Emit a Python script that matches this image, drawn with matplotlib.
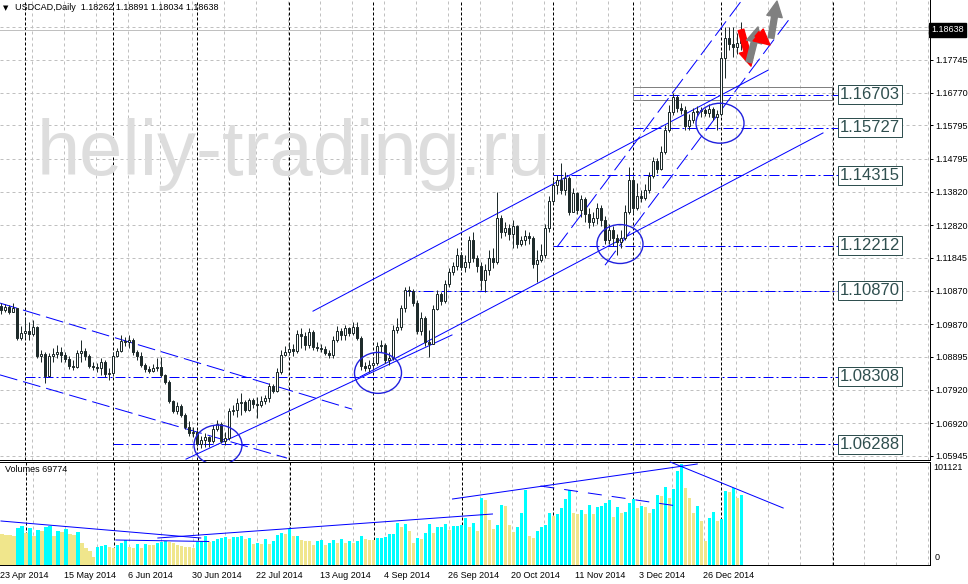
import numpy as np
import matplotlib
matplotlib.use("Agg")
import matplotlib.pyplot as plt
from matplotlib.patches import Ellipse, Rectangle
from matplotlib.transforms import blended_transform_factory

plt.rcParams['lines.scale_dashes'] = False
plt.rcParams['font.family'] = ['Liberation Sans', 'DejaVu Sans']

# USDCAD daily bars, 23 Apr 2014 .. 9 Jan 2015
first_open = 1.1040
closes = [
    1.1029, 1.1038, 1.1023, 1.1035, 1.0946, 1.0961, 1.0967, 1.0958, 1.0979, 1.0892,
    1.0898, 1.0832, 1.0892, 1.0898, 1.0904, 1.0895, 1.0883, 1.0862, 1.0859, 1.0901,
    1.0907, 1.0892, 1.0862, 1.0859, 1.0856, 1.0874, 1.0838, 1.0841, 1.0892, 1.0907,
    1.0937, 1.0934, 1.0940, 1.0904, 1.0892, 1.0865, 1.0853, 1.0847, 1.0856, 1.0859,
    1.0835, 1.0815, 1.0758, 1.0728, 1.0743, 1.0716, 1.0680, 1.0663, 1.0666, 1.0630,
    1.0642, 1.0651, 1.0639, 1.0675, 1.0690, 1.0639, 1.0648, 1.0728, 1.0731, 1.0752,
    1.0755, 1.0731, 1.0761, 1.0749, 1.0746, 1.0758, 1.0767, 1.0803, 1.0788, 1.0844,
    1.0895, 1.0904, 1.0913, 1.0907, 1.0958, 1.0952, 1.0925, 1.0964, 1.0919, 1.0916,
    1.0913, 1.0901, 1.0895, 1.0940, 1.0967, 1.0955, 1.0976, 1.0961, 1.0979, 1.0946,
    1.0862, 1.0856, 1.0865, 1.0871, 1.0922, 1.0925, 1.0880, 1.0886, 1.0970, 1.0979,
    1.1035, 1.1089, 1.1086, 1.1050, 1.0967, 1.1005, 1.0934, 1.0928, 1.1032, 1.1077,
    1.1056, 1.1107, 1.1142, 1.1160, 1.1193, 1.1157, 1.1172, 1.1238, 1.1184, 1.1160,
    1.1119, 1.1148, 1.1184, 1.1172, 1.1303, 1.1262, 1.1274, 1.1256, 1.1279, 1.1226,
    1.1238, 1.1250, 1.1244, 1.1166, 1.1178, 1.1193, 1.1274, 1.1354, 1.1402, 1.1417,
    1.1387, 1.1423, 1.1321, 1.1378, 1.1327, 1.1360, 1.1315, 1.1291, 1.1303, 1.1333,
    1.1297, 1.1238, 1.1268, 1.1244, 1.1232, 1.1244, 1.1321, 1.1417, 1.1333, 1.1369,
    1.1363, 1.1387, 1.1428, 1.1473, 1.1449, 1.1500, 1.1566, 1.1619, 1.1664, 1.1631,
    1.1625, 1.1578, 1.1595, 1.1619, 1.1622, 1.1625, 1.1616, 1.1628, 1.1604, 1.1613,
    1.1780, 1.1840, 1.1822, 1.1813, 1.18262, 1.18638,
]
highs = [
    1.1050, 1.1047, 1.1044, 1.1050, 1.1035, 1.0982, 1.1005, 1.0993, 1.0999, 1.0982,
    1.0910, 1.0904, 1.0901, 1.0916, 1.0925, 1.0919, 1.0904, 1.0892, 1.0880, 1.0910,
    1.0940, 1.0916, 1.0898, 1.0874, 1.0871, 1.0886, 1.0880, 1.0856, 1.0904, 1.0916,
    1.0955, 1.0949, 1.0955, 1.0946, 1.0910, 1.0904, 1.0871, 1.0862, 1.0868, 1.0886,
    1.0889, 1.0838, 1.0821, 1.0761, 1.0755, 1.0749, 1.0722, 1.0698, 1.0680, 1.0672,
    1.0654, 1.0663, 1.0654, 1.0686, 1.0701, 1.0695, 1.0666, 1.0737, 1.0746, 1.0767,
    1.0782, 1.0761, 1.0767, 1.0767, 1.0770, 1.0773, 1.0776, 1.0812, 1.0809, 1.0856,
    1.0910, 1.0922, 1.0931, 1.0928, 1.0970, 1.0976, 1.0964, 1.0976, 1.0970, 1.0934,
    1.0928, 1.0922, 1.0910, 1.0952, 1.0982, 1.0976, 1.0985, 1.0979, 1.0993, 1.0993,
    1.0952, 1.0874, 1.0880, 1.0886, 1.0934, 1.0940, 1.0931, 1.0904, 1.0985, 1.1005,
    1.1044, 1.1098, 1.1101, 1.1092, 1.1059, 1.1023, 1.1011, 1.0970, 1.1044, 1.1089,
    1.1083, 1.1119, 1.1154, 1.1172, 1.1214, 1.1202, 1.1193, 1.1250, 1.1262, 1.1193,
    1.1172, 1.1166, 1.1208, 1.1214, 1.1381, 1.1312, 1.1291, 1.1285, 1.1297, 1.1282,
    1.1250, 1.1268, 1.1262, 1.1250, 1.1208, 1.1226, 1.1285, 1.1369, 1.1417, 1.1431,
    1.1467, 1.1440, 1.1428, 1.1393, 1.1381, 1.1372, 1.1366, 1.1333, 1.1321, 1.1348,
    1.1342, 1.1309, 1.1285, 1.1279, 1.1256, 1.1268, 1.1342, 1.1455, 1.1428, 1.1408,
    1.1387, 1.1405, 1.1440, 1.1485, 1.1482, 1.1518, 1.1580, 1.1640, 1.1676, 1.1670,
    1.1646, 1.1637, 1.1613, 1.1631, 1.1637, 1.1634, 1.1631, 1.1643, 1.1634, 1.1625,
    1.1798, 1.1873, 1.1873, 1.1873, 1.1855, 1.18891,
]
lows = [
    1.1017, 1.1023, 1.1017, 1.1023, 1.0940, 1.0940, 1.0946, 1.0940, 1.0952, 1.0886,
    1.0874, 1.0812, 1.0829, 1.0874, 1.0886, 1.0874, 1.0874, 1.0853, 1.0850, 1.0856,
    1.0874, 1.0880, 1.0856, 1.0850, 1.0844, 1.0835, 1.0829, 1.0821, 1.0832, 1.0889,
    1.0904, 1.0922, 1.0916, 1.0895, 1.0880, 1.0859, 1.0844, 1.0841, 1.0844, 1.0847,
    1.0829, 1.0809, 1.0752, 1.0722, 1.0719, 1.0710, 1.0675, 1.0654, 1.0651, 1.0624,
    1.0618, 1.0621, 1.0621, 1.0633, 1.0669, 1.0633, 1.0627, 1.0642, 1.0716, 1.0710,
    1.0716, 1.0725, 1.0728, 1.0737, 1.0707, 1.0740, 1.0749, 1.0755, 1.0782, 1.0785,
    1.0838, 1.0892, 1.0895, 1.0892, 1.0901, 1.0916, 1.0910, 1.0916, 1.0910, 1.0907,
    1.0904, 1.0895, 1.0886, 1.0886, 1.0934, 1.0940, 1.0940, 1.0952, 1.0955, 1.0940,
    1.0850, 1.0847, 1.0844, 1.0853, 1.0865, 1.0904, 1.0871, 1.0865, 1.0880, 1.0961,
    1.0970, 1.1023, 1.1071, 1.1041, 1.0958, 1.0955, 1.0922, 1.0889, 1.0928, 1.1029,
    1.1044, 1.1050, 1.1098, 1.1133, 1.1148, 1.1148, 1.1142, 1.1154, 1.1172, 1.1142,
    1.1089, 1.1083, 1.1133, 1.1154, 1.1166, 1.1244, 1.1250, 1.1238, 1.1214, 1.1214,
    1.1220, 1.1223, 1.1226, 1.1154, 1.1113, 1.1172, 1.1184, 1.1262, 1.1348, 1.1375,
    1.1375, 1.1372, 1.1312, 1.1321, 1.1315, 1.1306, 1.1291, 1.1274, 1.1279, 1.1285,
    1.1279, 1.1226, 1.1226, 1.1220, 1.1193, 1.1214, 1.1238, 1.1315, 1.1318, 1.1327,
    1.1351, 1.1357, 1.1378, 1.1423, 1.1437, 1.1446, 1.1494, 1.1560, 1.1610, 1.1619,
    1.1613, 1.1566, 1.1566, 1.1586, 1.1607, 1.1604, 1.1607, 1.1604, 1.1595, 1.1566,
    1.1607, 1.1721, 1.1804, 1.1783, 1.1792, 1.18034,
]
volumes = [
    31000, 30500, 30000, 29500, 37000, 39000, 32000, 37000, 29000, 35000,
    34000, 38000, 39000, 29000, 34000, 33000, 36000, 31000, 30000, 33000,
    22000, 17000, 14000, 8000, 18000, 19000, 20000, 18000, 17500, 20000,
    22000, 25000, 18000, 17000, 21000, 17000, 21000, 20500, 20000, 22000,
    23000, 24000, 23500, 22000, 20000, 19000, 18500, 18000, 17500, 23000,
    24000, 29000, 23000, 24000, 26000, 27000, 28000, 26000, 28000, 28500,
    29000, 26000, 27000, 21000, 22000, 21000, 26000, 21000, 24000, 30000,
    32000, 31500, 36000, 29000, 29500, 25000, 24500, 24000, 20000, 24000,
    25000, 20000, 22000, 25000, 22000, 26000, 22000, 24000, 22000, 24000,
    29000, 26000, 25500, 25000, 27000, 27500, 28000, 31000, 31500, 42000,
    38000, 41000, 34000, 22000, 27000, 26500, 32000, 41000, 32000, 38000,
    38500, 41000, 35000, 39000, 39500, 40000, 47000, 38000, 42000, 34000,
    67000, 65000, 45000, 36000, 40000, 60000, 59000, 40000, 33000, 38000,
    52000, 75000, 29000, 27000, 34000, 38000, 40000, 52000, 49000, 51000,
    57000, 66000, 75000, 52000, 51000, 55000, 51000, 60000, 51000, 58000,
    59000, 62000, 65000, 48000, 58000, 52000, 53000, 62000, 66000, 57000,
    59000, 58000, 52000, 56000, 70000, 69000, 78000, 67000, 76000, 94000,
    101121, 77000, 67000, 52000, 59000, 44000, 24000, 47000, 53000, 44000,
    46000, 74000, 73500, 77000, 67000, 69774,
]

# axis texts
date_bars = [0, 16, 32, 48, 64, 80, 96, 112, 128, 144, 160, 176]
date_labels = ['23 Apr 2014', '15 May 2014', '6 Jun 2014', '30 Jun 2014', '22 Jul 2014',
               '13 Aug 2014', '4 Sep 2014', '26 Sep 2014', '20 Oct 2014', '11 Nov 2014',
               '3 Dec 2014', '26 Dec 2014']
month_start_bars = [6, 28, 49, 72, 93, 115, 138, 158, 180, 208]
price_ticks = [1.17745, 1.16770, 1.15795, 1.14795, 1.13820, 1.12820, 1.11845,
               1.10870, 1.09870, 1.08895, 1.07920, 1.06920, 1.05945]
price_grid = [1.18720] + price_ticks
vol_max_label = 101121

# horizontal levels (price, first bar)
levels = [1.16703, 1.15727, 1.14315, 1.12212, 1.10870, 1.08308, 1.06288]
level_start = [158, 158, 138, 138, 101, 6, 28]

# trend lines as (bar0, price0, bar1, price1)
solid_lines = [
    (78.0, 1.1026, 191.75, 1.1744),
    (89.75, 1.0830, 205.5, 1.1557),
    (46.25, 1.0585, 112.75, 1.0955),
]
dashed_lines = [
    (139.0, 1.1217, 185.25, 1.1953),
    (151.0, 1.1163, 197.25, 1.1899),
    (-0.25, 1.1050, 87.75, 1.0734),
    (-0.25, 1.0836, 71.5, 1.0588),
]
# volume window lines as (bar0, vol0, bar1, vol1)
vol_lines = [
    (-0.25, 44000, 49.75, 27000),
    (28.5, 25000, 51.75, 23500),
    (39.0, 27000, 122.75, 51000),
    (112.75, 66000, 174.0, 101000),
    (167.25, 103000, 195.5, 57000),
]
vol_dashed = [(134.75, 79000, 169.0, 59000)]
# circles: centre bar, centre price, width (bars), height (price)
circles = [
    (154.75, 1.1226, 11.5, 0.0116),
    (179.75, 1.1586, 12.0, 0.0119),
    (94.25, 1.0842, 11.75, 0.0122),
    (54.25, 1.0627, 12.0, 0.0119),
]
# arrows: tail bar, tail price, tip bar, tip price, colour
arrows = [
    (185.0, 1.1864, 187.5, 1.1756, '#FF0000'),
    (187.0, 1.1768, 189.25, 1.1873, '#808080'),
    (189.0, 1.1852, 192.25, 1.1819, '#FF0000'),
    (192.5, 1.1840, 194.0, 1.1950, '#808080'),
]

W, H = 968, 584
PX = 0.72  # points per pixel at 100 dpi
BLUE = '#0000FF'
DARK = '#1e2b2b'


def box(x0, y0, x1, y1):
    return [x0 / W, 1 - y1 / H, (x1 - x0) / W, (y1 - y0) / H]


fig = plt.figure(figsize=(W / 100, H / 100), dpi=100)
ax = fig.add_axes(box(0, 0, 930, 460))
axv = fig.add_axes(box(0, 462, 930, 565))

xlim = (-0.25, 232.25)
ax.set_xlim(*xlim)
ax.set_ylim(1.05824, 1.19532)
axv.set_xlim(*xlim)
axv.set_ylim(0, 103000)

# grid and period separators
for p in price_grid:
    ax.axhline(p, color='#C0C0C0', lw=PX, dashes=(3 * PX, 3 * PX), zorder=0.5)
for g in np.arange(8, 233, 8) - 0.25:
    for a in (ax, axv):
        a.axvline(g, color='#C0C0C0', lw=PX, dashes=(3 * PX, 3 * PX), zorder=0.5)
for m in month_start_bars:
    for a in (ax, axv):
        a.axvline(m, color='black', lw=PX, dashes=(3 * PX, 2 * PX), zorder=0.6)

# bid line
ax.axhline(closes[-1], color='#C0C0C0', lw=PX, zorder=0.7)

# watermark
ax.text(37 / 930, 1 - 175 / 460, 'heliy-trading.ru', transform=ax.transAxes,
        fontsize=56, color='#DDDDDD', ha='left', va='baseline', zorder=1)

# candles
c = np.array(closes)
o = np.r_[first_open, c[:-1]]
hi = np.maximum(np.array(highs), np.maximum(o, c))
lo = np.minimum(np.array(lows), np.minimum(o, c))
idx = np.arange(len(c))
up = c >= o
ax.vlines(idx, lo, hi, color=DARK, lw=PX, zorder=4)
ax.bar(idx, np.abs(c - o), bottom=np.minimum(o, c), width=0.55,
       color=np.where(up, 'white', DARK), edgecolor=DARK, linewidth=PX, zorder=5)

# levels with boxed labels
for lvl, start in zip(levels, level_start):
    ax.plot([start, 209.5], [lvl, lvl], color=BLUE, lw=PX,
            dashes=(10 * PX, 3 * PX, 2 * PX, 3 * PX), zorder=3)
    ax.text(209.75, lvl, f'{lvl:.5f}', fontsize=12, color='#2F4F4F', ha='left', va='center',
            bbox=dict(boxstyle='square,pad=0.12', fc='white', ec='#2F4F4F', lw=PX), zorder=7)
ax.add_patch(Rectangle((158, 1.1655), 207.75 - 158, 1.1694 - 1.1655, fill=False,
                       ec='#808080', lw=PX, zorder=3))

for x0, y0, x1, y1 in solid_lines:
    ax.plot([x0, x1], [y0, y1], color=BLUE, lw=PX, zorder=3)
for x0, y0, x1, y1 in dashed_lines:
    ax.plot([x0, x1], [y0, y1], color=BLUE, lw=PX, dashes=(18 * PX, 6 * PX), zorder=3)

for cx, cy, w, h in circles:
    ax.add_patch(Ellipse((cx, cy), w, h, fill=False, ec='#2020DD', lw=1.0, zorder=6,
                         clip_on=False))

for x0, y0, x1, y1, col in arrows:
    ax.annotate('', xy=(x1, y1), xytext=(x0, y0),
                arrowprops=dict(arrowstyle='simple,head_length=0.8,head_width=0.8,tail_width=0.3',
                                mutation_scale=14, color=col, shrinkA=0, shrinkB=0), zorder=8)

# volumes
v = np.array(volumes)
vcol = ['#F0E68C'] + ['#00FFFF' if v[i] > v[i - 1] else '#F0E68C' for i in range(1, len(v))]
axv.bar(idx, v, width=0.8, color=vcol, lw=0, zorder=2)
for x0, y0, x1, y1 in vol_lines:
    axv.plot([x0, x1], [y0, y1], color=BLUE, lw=PX, zorder=3, clip_on=False)
for x0, y0, x1, y1 in vol_dashed:
    axv.plot([x0, x1], [y0, y1], color=BLUE, lw=PX, dashes=(14 * PX, 10 * PX), zorder=3)

# frames and axis labels
for s in ['top', 'left']:
    ax.spines[s].set_visible(False)
for s in ['right', 'bottom']:
    ax.spines[s].set_linewidth(PX)
axv.spines['left'].set_visible(False)
for s in ['right', 'bottom', 'top']:
    axv.spines[s].set_linewidth(PX)

ax.tick_params(axis='x', bottom=False, labelbottom=False)
ax.yaxis.tick_right()
ax.set_yticks(price_ticks)
ax.set_yticklabels([f'{t:.5f}' for t in price_ticks])
ax.tick_params(axis='y', length=3 * PX, width=PX, labelsize=6.5, pad=1.5)

blend = blended_transform_factory(ax.transAxes, ax.transData)
ax.text(1 + 1 / 930, closes[-1], f'{closes[-1]:.5f}', transform=blend, fontsize=6.5,
        color='white', ha='left', va='center', clip_on=False, zorder=9,
        bbox=dict(boxstyle='square,pad=0.25', fc='black', ec='black'))

axv.set_yticks([])
axv.set_xticks(np.array(date_bars) - 0.5)
axv.set_xticklabels(date_labels, ha='left')
axv.tick_params(axis='x', length=0, labelsize=6.5, pad=4)
axv.text(1 + 3 / 930, 1 - 6 / 103, str(vol_max_label), transform=axv.transAxes,
         fontsize=6.5, ha='left', va='center')
axv.text(1 + 5 / 930, 7 / 103, '0', transform=axv.transAxes, fontsize=6.5,
         ha='left', va='center')
axv.text(5 / 930, 1 - 8 / 103, f'Volumes {volumes[-1]}', transform=axv.transAxes,
         fontsize=6.5, ha='left', va='center')

fig.text(3 / W, 1 - 8 / H, '\u25bc', fontsize=5, family='DejaVu Sans', va='center')
fig.text(15 / W, 1 - 8 / H, 'USDCAD,Daily  1.18262 1.18891 1.18034 1.18638',
         fontsize=6.5, va='center')

fig.savefig('out.png', dpi=100)
